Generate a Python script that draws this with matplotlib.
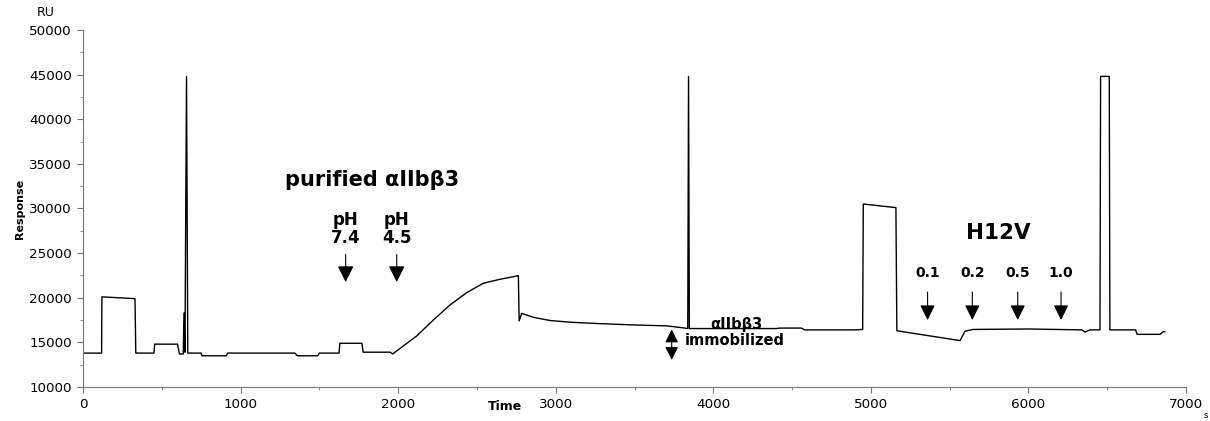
import numpy as np
import matplotlib
matplotlib.use("Agg")
import matplotlib.pyplot as plt

# sensorgram trace (time in s, response in RU)
time = [0, 118, 120, 330, 335, 450, 455, 600, 612, 636, 641, 647, 657, 665,
        750, 755, 910, 918, 1345, 1360, 1490, 1500, 1625, 1630, 1770, 1778,
        1950, 1965, 2117, 2223, 2329, 2435, 2540, 2646, 2763, 2768, 2784,
        2860, 2964, 3100, 3281, 3500, 3704, 3800, 3838, 3843, 3848, 4400,
        4420, 4560, 4580, 4900, 4948, 4952, 5159, 5165, 5566, 5597, 5650,
        6000, 6340, 6360, 6390, 6454, 6458, 6513, 6517, 6680, 6690, 6835,
        6856, 6866]
response = [13800, 13800, 20100, 19900, 13800, 13800, 14800, 14800, 13700,
            13700, 18300, 13900, 44800, 13800, 13800, 13500, 13500, 13800,
            13800, 13500, 13500, 13800, 13800, 14900, 14900, 13900, 13900,
            13700, 15710, 17500, 19190, 20570, 21620, 22070, 22470, 17400,
            18250, 17800, 17450, 17250, 17100, 16950, 16850, 16650, 16550,
            44800, 16550, 16550, 16600, 16600, 16400, 16400, 16450, 30500,
            30100, 16300, 15200, 16250, 16450, 16500, 16400, 16150, 16400,
            16400, 44800, 44800, 16400, 16400, 15900, 15900, 16200, 16200]

# injection markers
ph_x = [1667, 1991]
ph_labels = ["pH\n7.4", "pH\n4.5"]
conc_x = [5360, 5644, 5932, 6207]
conc_labels = ["0.1", "0.2", "0.5", "1.0"]

fig = plt.figure(figsize=(12.10, 4.21), dpi=100)
ax = fig.add_axes([83 / 1210, 1 - 387 / 421, 1103 / 1210, 357 / 421])

ax.plot(time, response, color="black", lw=1.0)

ax.set_xlim(0, 7000)
ax.set_ylim(10000, 50000)
ax.set_xticks(np.arange(0, 7001, 1000))
ax.set_xticks(np.arange(0, 7001, 500), minor=True)
ax.set_yticks(np.arange(10000, 50001, 5000))
ax.set_yticks(np.arange(10000, 50001, 2500), minor=True)
ax.tick_params(axis="both", which="major", labelsize=9.7, length=4,
               width=0.8, color="#777777", pad=4)
ax.tick_params(axis="both", which="minor", length=2, width=0.6,
               color="#777777")
ax.tick_params(axis="x", which="major", pad=4)
for side in ["top", "right"]:
    ax.spines[side].set_visible(False)
for side in ["left", "bottom"]:
    ax.spines[side].set_color("#777777")
    ax.spines[side].set_linewidth(0.8)

bold = dict(fontweight="bold", family=["DejaVu Sans"])

ax.text(1282, 32520, "purified \u03b1IIb\u03b23", fontsize=15, ha="left",
        va="baseline", **bold)
for x, lab in zip(ph_x, ph_labels):
    ax.text(x, 27700, lab, fontsize=12, ha="center", va="center",
            linespacing=0.95, **bold)
    ax.annotate("", xy=(x, 21450), xytext=(x, 25150),
                arrowprops=dict(arrowstyle="-|>", mutation_scale=25,
                                lw=0.8, color="black"))

ax.text(5810, 27250, "H12V", fontsize=15.5, ha="center", va="center", **bold)
for x, lab in zip(conc_x, conc_labels):
    ax.text(x, 22740, lab, fontsize=10, ha="center", va="center", **bold)
    ax.annotate("", xy=(x, 17200), xytext=(x, 20950),
                arrowprops=dict(arrowstyle="-|>", mutation_scale=23,
                                lw=0.8, color="black"))

ax.annotate("", xy=(3736, 16760), xytext=(3736, 12720),
            arrowprops=dict(arrowstyle="<|-|>", mutation_scale=20,
                            lw=0.8, color="black"))
ax.text(3979, 16950, "\u03b1IIb\u03b23", fontsize=10.5, ha="left",
        va="center", **bold)
ax.text(3820, 15190, "immobilized", fontsize=10.5, ha="left",
        va="center", **bold)

fig.text(37 / 1210, 1 - 13 / 421, "RU", fontsize=9, ha="left", va="center")
fig.text(20 / 1210, 1 - 209 / 421, "Response", fontsize=8, rotation=90,
         ha="center", va="center", fontweight="bold",
         family=["Liberation Sans Narrow", "DejaVu Sans"])
fig.text(505 / 1210, 1 - 407 / 421, "Time", fontsize=9, ha="center",
         va="center", **bold)
fig.text(1206 / 1210, 1 - 416 / 421, "s", fontsize=6, ha="center",
         va="center")

fig.savefig("out.png", dpi=100)
